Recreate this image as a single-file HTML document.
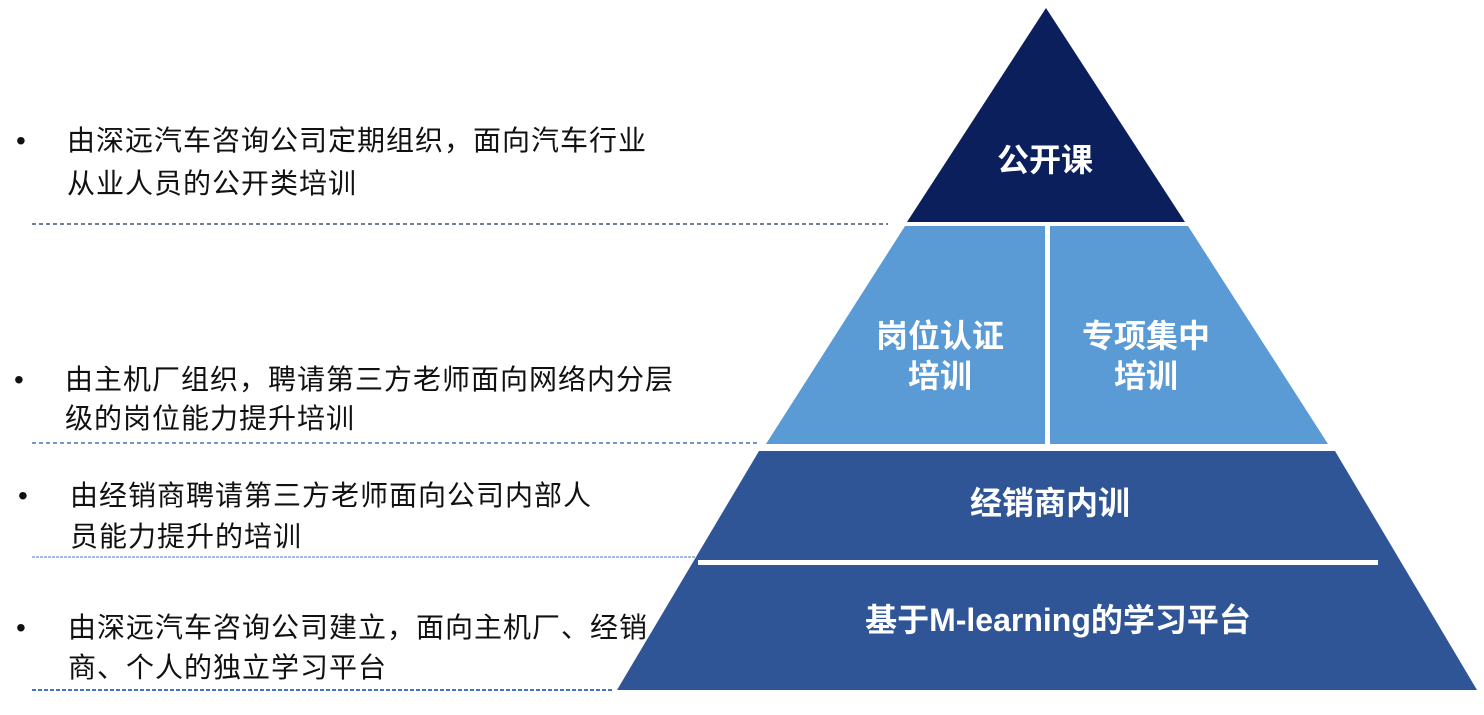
<!DOCTYPE html>
<html><head><meta charset="utf-8"><style>
html,body{margin:0;padding:0;background:#fff;}
body{width:1484px;height:715px;position:relative;overflow:hidden;font-family:"Liberation Sans","Noto Sans CJK SC",sans-serif;}
.t{position:absolute;font-size:28px;letter-spacing:1px;color:#111;white-space:nowrap;line-height:28px;}
.b{position:absolute;font-size:28px;color:#111;line-height:28px;}
.l{position:absolute;font-size:32px;font-weight:bold;color:#fff;white-space:nowrap;line-height:40px;text-align:center;transform:translateX(-50%);}
svg{position:absolute;left:0;top:0;}
</style></head><body>
<svg width="1484" height="715">
<polygon points="1046,8 1185,222 907,222" fill="#0b1f5c"/>
<polygon points="905,226 1188,226 1328,444 766,444" fill="#5b9bd5"/>
<rect x="1045" y="226" width="5" height="218" fill="#fff"/>
<polygon points="759,451 1335,451 1477,690 617,690" fill="#2f5597"/>
<rect x="698" y="560" width="680" height="5" fill="#fff"/>
<line x1="32" y1="224" x2="888" y2="224" stroke="#44546a" stroke-width="1.5" stroke-dasharray="4,3"/>
<line x1="32" y1="443" x2="758" y2="443" stroke="#4472c4" stroke-width="1.5" stroke-dasharray="4,3"/>
<line x1="32" y1="557" x2="697" y2="557" stroke="#4a7ab8" stroke-width="1" stroke-dasharray="3,1"/>
<line x1="32" y1="690" x2="612" y2="690" stroke="#4472c4" stroke-width="2" stroke-dasharray="4,2"/>
</svg>
<div class="b" style="left:16px;top:127px">•</div>
<div class="t" style="left:67px;top:127px">由深远汽车咨询公司定期组织，面向汽车行业</div>
<div class="t" style="left:67px;top:170px">从业人员的公开类培训</div>
<div class="b" style="left:14px;top:366px">•</div>
<div class="t" style="left:65px;top:366px">由主机厂组织，聘请第三方老师面向网络内分层</div>
<div class="t" style="left:65px;top:405px">级的岗位能力提升培训</div>
<div class="b" style="left:18px;top:482px">•</div>
<div class="t" style="left:70px;top:482px">由经销商聘请第三方老师面向公司内部人</div>
<div class="t" style="left:70px;top:523px">员能力提升的培训</div>
<div class="b" style="left:16px;top:614px">•</div>
<div class="t" style="left:68px;top:614px">由深远汽车咨询公司建立，面向主机厂、经销</div>
<div class="t" style="left:68px;top:654px">商、个人的独立学习平台</div>
<div class="l" style="left:1045px;top:140px">公开课</div>
<div class="l" style="left:940px;top:316px">岗位认证<br>培训</div>
<div class="l" style="left:1146px;top:316px">专项集中<br>培训</div>
<div class="l" style="left:1050px;top:483px">经销商内训</div>
<div class="l" style="left:1058px;top:600px">基于M-learning的学习平台</div>
</body></html>
